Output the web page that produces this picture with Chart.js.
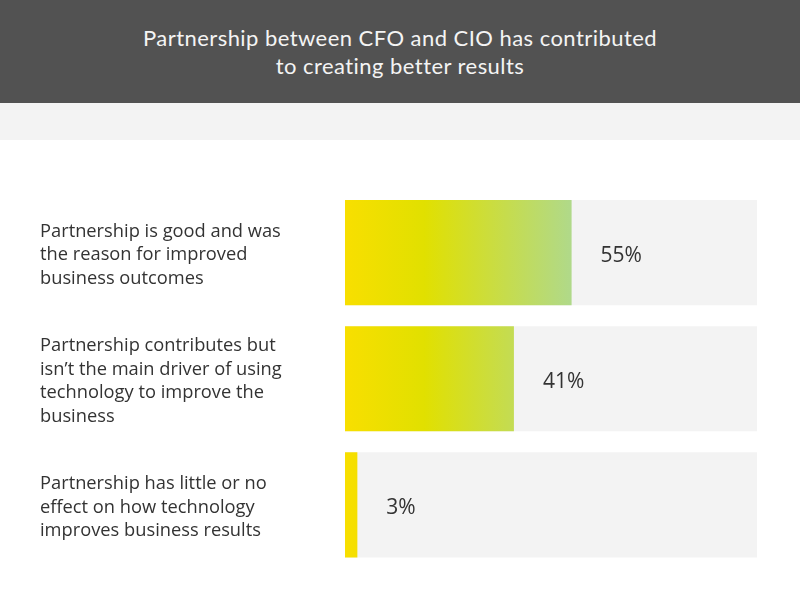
<!DOCTYPE html>
<html><head><meta charset="utf-8">
<script src="https://cdn.jsdelivr.net/npm/chart.js@4"></script>
<style>
html,body{margin:0;padding:0;background:#fff;width:800px;height:610px;overflow:hidden}
#hdr{height:103px;background:#525252;color:#f4f4f4;font-family:Lato,sans-serif;font-size:22px;letter-spacing:0.45px;line-height:28px;text-align:center;box-sizing:border-box;padding-top:24px}
#band{height:37px;background:#f3f3f3}
#wrap{position:relative;width:800px;height:470px}
</style></head><body>
<div id="hdr">Partnership between CFO and CIO has contributed<br>to creating better results</div>
<div id="band"></div>
<div id="wrap"><canvas id="c" width="800" height="470"></canvas></div>
<script>
const categories = [
  ["Partnership is good and was","the reason for improved","business outcomes"],
  ["Partnership contributes but","isn\u2019t the main driver of using","technology to improve the","business"],
  ["Partnership has little or no","effect on how technology","improves business results"]
];
const values = [55, 41, 3];
const trackMax = 100;
const tracks = categories.map(() => trackMax);

function gradFill(ctx){
  const chart = ctx.chart;
  const ca = chart.chartArea;
  if(!ca) return '#f0df00';
  const xs = chart.scales.x;
  const x0 = xs.getPixelForValue(0);
  const x1 = xs.getPixelForValue(Math.max(...values));
  const g = chart.ctx.createLinearGradient(x0,0,x1,0);
  g.addColorStop(0,'#f8df00');
  g.addColorStop(0.35,'#e1e000');
  g.addColorStop(1,'#b0d98a');
  return g;
}

const valueLabels = {
  id:'valueLabels',
  afterDatasetsDraw(chart){
    const meta = chart.getDatasetMeta(0);
    const c = chart.ctx;
    c.save();
    c.font = '21px "Open Sans", sans-serif';
    c.fillStyle = '#333';
    c.textBaseline = 'middle';
    c.textAlign = 'left';
    meta.data.forEach((bar,i)=>{
      c.fillText(values[i]+'%', bar.x + 29, bar.y + 3);
    });
    c.restore();
  }
};

new Chart(document.getElementById('c'),{
  type:'bar',
  data:{
    labels:categories,
    datasets:[
      {data:values, backgroundColor:gradFill, order:1, barPercentage:1, categoryPercentage:0.833},
      {data:tracks, backgroundColor:'#f3f3f3', order:2, barPercentage:1, categoryPercentage:0.833}
    ]
  },
  options:{
    indexAxis:'y',
    responsive:false,
    animation:false,
    grouped:false,
    layout:{padding:{left:40,right:43,top:49.5,bottom:42}},
    plugins:{legend:{display:false},tooltip:{enabled:false},title:{display:false}},
    scales:{
      x:{display:false,min:0,max:trackMax},
      y:{
        grid:{display:false,drawBorder:false},
        border:{display:false},
        ticks:{crossAlign:'far',color:'#333',padding:0,labelOffset:2.5,font:{family:'"Open Sans", sans-serif',size:18.3,lineHeight:1.29}},
        afterFit(axis){axis.width = 305;}
      }
    }
  },
  plugins:[valueLabels]
});
</script>
</body></html>
